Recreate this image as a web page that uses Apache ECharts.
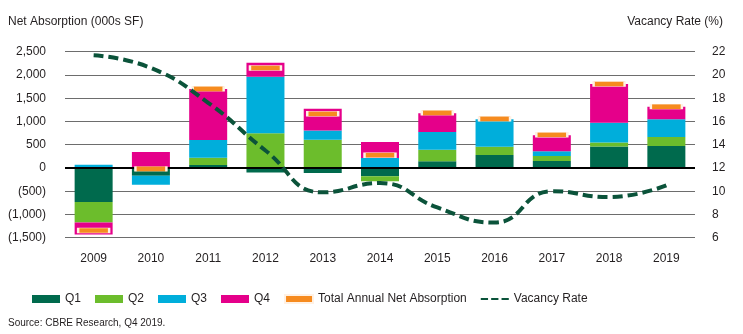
<!DOCTYPE html>
<html>
<head>
<meta charset="utf-8">
<script src="https://cdn.jsdelivr.net/npm/echarts@6/dist/echarts.min.js"></script>
<style>
html,body{margin:0;padding:0;background:#fff;}
#chart{width:743px;height:334px;}
</style>
</head>
<body>
<div id="chart"></div>
<script>
const years = ['2009','2010','2011','2012','2013','2014','2015','2016','2017','2018','2019'];
const q1 = [-731, -170, 65, -100, -110, -180, 144, 279, 151, 462, 473];
const q2 = [-440, 0, 157, 746, 606, -105, 250, 179, 107, 86, 193];
const q3 = [70, -190, 380, 1217, 200, 215, 378, 589, 101, 426, 381];
const q4 = [-258, 345, 1097, 302, 467, 345, 405, 0, 344, 832, 271];
const totals = [-1345, -20, 1700, 2150, 1165, 273, 1185, 1055, 715, 1806, 1318];
const vacancy = [21.7, 20.6, 17.6, 13.5, 9.9, 10.7, 8.6, 7.3, 10.0, 9.5, 10.5];

const FONT = '"Liberation Sans Narrow", "Liberation Sans", sans-serif';
const TXT = '#231f20';
const LINE_GREEN = '#0b533a';

function fmtLeft(v) {
  const s = Math.abs(v).toLocaleString('en-US');
  return v < 0 ? '(' + s + ')' : s;
}

const chart = echarts.init(document.getElementById('chart'), null, {renderer: 'canvas'});
const barW = 38;
chart.setOption({
  animation: false,
  backgroundColor: '#fff',
  textStyle: {fontFamily: FONT, color: TXT},
  grid: {left: 65, right: 48, top: 51.7, bottom: 96.3},
  graphic: [
    {type: 'text', left: 8, top: 16, style: {text: 'Net Absorption (000s SF)', font: '12px ' + FONT, fill: TXT}},
    {type: 'text', right: 20, top: 16, style: {text: 'Vacancy Rate (%)', font: '12px ' + FONT, fill: TXT}},
    {type: 'text', left: 8, top: 318, style: {text: 'Source: CBRE Research, Q4 2019.', font: '10px ' + FONT, fill: TXT}}
  ],
  legend: {
    left: 27, top: 288,
    itemWidth: 28, itemHeight: 8, itemGap: 14,
    textStyle: {fontFamily: FONT, fontSize: 12, color: TXT},
    data: [
      {name: 'Q1', icon: 'rect'},
      {name: 'Q2', icon: 'rect'},
      {name: 'Q3', icon: 'rect'},
      {name: 'Q4', icon: 'rect'},
      {name: 'Total Annual Net Absorption', icon: 'rect'},
      {name: 'Vacancy Rate', icon: 'path://M0,4 L7,4 L7,6 L0,6 Z M10,4 L17,4 L17,6 L10,6 Z M20,4 L27,4 L27,6 L20,6 Z', itemStyle: {color: LINE_GREEN}}
    ]
  },
  xAxis: {
    type: 'category', data: years,
    axisLine: {show: false}, axisTick: {show: false},
    axisLabel: {fontFamily: FONT, fontSize: 12, color: TXT, margin: 15}
  },
  yAxis: [
    {
      type: 'value', min: -1500, max: 2500, interval: 500,
      axisLine: {show: false}, axisTick: {show: false},
      axisLabel: {fontFamily: FONT, fontSize: 12, color: TXT, margin: 19, formatter: fmtLeft},
      splitLine: {lineStyle: {color: '#6d6d6d', width: 1}}
    },
    {
      type: 'value', min: 6, max: 22, interval: 2, position: 'right',
      axisLine: {show: false}, axisTick: {show: false},
      axisLabel: {fontFamily: FONT, fontSize: 12, color: TXT, margin: 17},
      splitLine: {show: false}
    }
  ],
  series: [
    {name: 'Q1', type: 'bar', stack: 'a', data: q1, barWidth: barW, itemStyle: {color: '#006a4d'},
      markLine: {silent: true, symbol: 'none', label: {show: false}, lineStyle: {color: '#000', width: 2, type: 'solid'}, data: [{yAxis: 0}], z: 5}},
    {name: 'Q2', type: 'bar', stack: 'a', data: q2, barWidth: barW, itemStyle: {color: '#6cbd2c'}},
    {name: 'Q3', type: 'bar', stack: 'a', data: q3, barWidth: barW, itemStyle: {color: '#00aedb'}},
    {name: 'Q4', type: 'bar', stack: 'a', data: q4, barWidth: barW, itemStyle: {color: '#e5008a'}},
    {name: 'Total Annual Net Absorption', type: 'scatter', data: totals, symbol: 'rect', symbolSize: [31, 5],
      itemStyle: {color: '#f68b1f', borderColor: '#fff1e4', borderWidth: 1, opacity: 1}, z: 6},
    {name: 'Vacancy Rate', type: 'line', yAxisIndex: 1, data: vacancy, smooth: 0.5, symbol: 'none', showSymbol: false,
      lineStyle: {color: LINE_GREEN, width: 4, type: [10, 5], dashOffset: 0}, itemStyle: {color: LINE_GREEN}, z: 7}
  ]
});
</script>
</body>
</html>
